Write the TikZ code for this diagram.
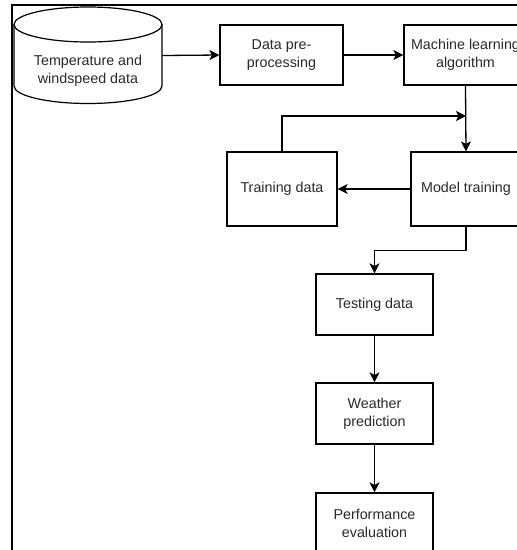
\documentclass[tikz,border=0pt]{standalone}
\usepackage{fontspec}
\setmainfont{Liberation Sans}
\usetikzlibrary{arrows.meta,positioning}
\definecolor{txt}{HTML}{2A2A2A}
\tikzset{
  box/.style={draw=black, line width=1.2pt, fill=white, align=center, inner sep=0pt,
    font=\fontsize{14.3}{18}\selectfont, text=txt},
  conn/.style={line width=1.3pt, -{Stealth[length=10pt,width=10pt,inset=2.5pt]}},
  frame/.style={line width=2pt}
}
\begin{document}
\begin{tikzpicture}[x=1pt,y=-1pt]
\useasboundingbox (0,0) rectangle (517,550);
\clip (0,0) rectangle (517,550);
\fill[white] (0,0) rectangle (517,550);
% frame
\draw[frame] (12,551) -- (12,5) -- (518,5);
% cylinder
\node[minimum width=148pt, minimum height=97pt, inner sep=0pt] (db) at (88,55.5) {};
\draw[line width=1.2pt, fill=white] (14,24.5) -- (14,86) arc[start angle=180, end angle=0, x radius=74, y radius=17.5] -- (162,24.5);
\draw[line width=1.2pt, fill=white] (88,24.5) ellipse[x radius=74, y radius=17.5];
\node[box, draw=none, fill=none] (dbt) at (88,71) {Temperature and\\windspeed data};
% boxes
\node[box, minimum width=123pt, minimum height=60pt] (pre) at (281.5,55) {Data pre-\\processing};
\node[box, minimum width=123pt, minimum height=60pt] (ml) at (465.5,55) {Machine learning\\algorithm};
\node[box, minimum width=110pt, minimum height=74pt] (mt) at (466,189) {Model training};
\node[box, minimum width=110pt, minimum height=74pt] (td) at (282,189) {Training data};
\node[box, minimum width=117pt, minimum height=61pt] (test) at (374.5,304.5) {Testing data};
\node[box, minimum width=117pt, minimum height=61pt] (wp) at (374.5,413.5) {Weather\\prediction};
\node[box, minimum width=117pt, minimum height=61pt] (pe) at (374.5,523.5) {Performance\\evaluation};
\coordinate (j) at (466,116);
% connectors
\draw[conn] (db.east) -- (pre.west);
\draw[conn] (pre.east) -- (ml.west);
\draw[conn] (ml.south) -- (mt.north);
\draw[conn] (td.north) |- (j);
\draw[conn] (mt.west) -- (td.east);
\draw[conn] (mt.south) -- ++(0,24) -| (test.north);
\draw[conn] (test.south) -- (wp.north);
\draw[conn] (wp.south) -- (pe.north);
\end{tikzpicture}
\end{document}
